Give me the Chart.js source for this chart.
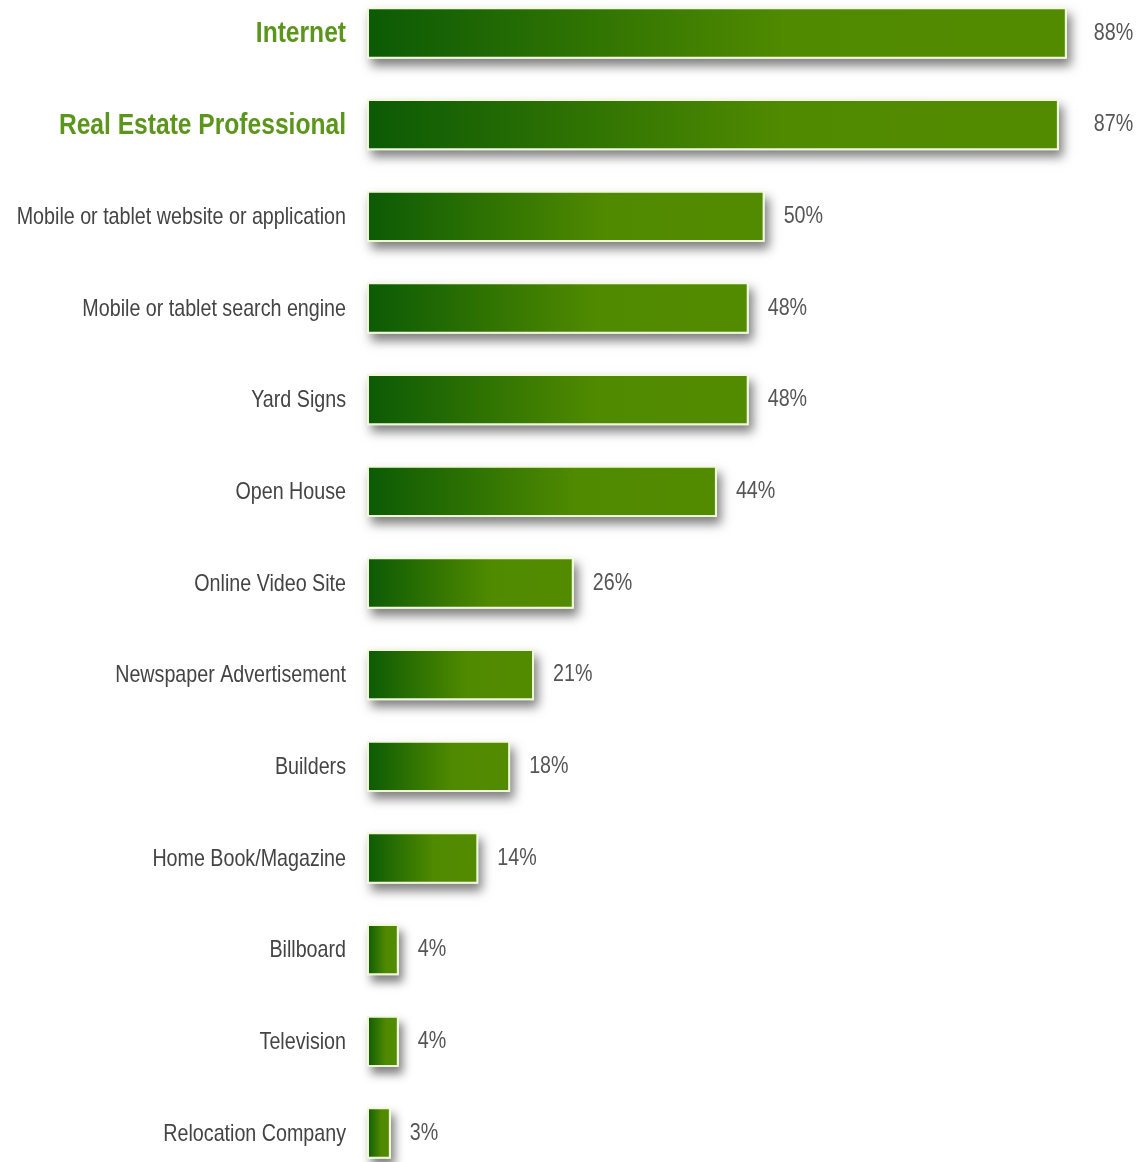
<!DOCTYPE html>
<html>
<head>
<meta charset="utf-8">
<script src="https://cdn.jsdelivr.net/npm/chart.js@4.4.0/dist/chart.umd.min.js"></script>
<style>
    html, body { margin: 0; padding: 0; background: #ffffff; }
    #wrap { width: 1140px; height: 1162px; }
</style>
</head>
<body>
<div id="wrap"><canvas id="sourcesChart"></canvas></div>
<script>
const categories = [
    'Internet',
    'Real Estate Professional',
    'Mobile or tablet website or application',
    'Mobile or tablet search engine',
    'Yard Signs',
    'Open House',
    'Online Video Site',
    'Newspaper Advertisement',
    'Builders',
    'Home Book/Magazine',
    'Billboard',
    'Television',
    'Relocation Company'
];
const percentValues = [88, 87, 50, 48, 48, 44, 26, 21, 18, 14, 4, 4, 3];
const highlightCount = 2; // first two rows are shown bold in green

const FONT = '"Liberation Sans", Arial, sans-serif';
const NARROW = 0.82; // squeeze Liberation Sans to look like a narrow face

// draws text squeezed horizontally, anchored at its right or left edge
function narrowText(ctx, text, x, y, align) {
    ctx.save();
    ctx.translate(x, y);
    ctx.scale(NARROW, 1);
    ctx.textAlign = align;
    ctx.textBaseline = 'middle';
    ctx.fillText(text, 0, 0);
    ctx.restore();
}

// soft shadow under each bar, drawn before the bars themselves
const barShadow = {
    id: 'barShadow',
    beforeDatasetsDraw(chart) {
        const ctx = chart.ctx;
        const meta = chart.getDatasetMeta(0);
        ctx.save();
        ctx.shadowColor = 'rgba(0, 0, 0, 0.5)';
        ctx.shadowBlur = 10;
        ctx.shadowOffsetX = 4;
        ctx.shadowOffsetY = 7;
        ctx.fillStyle = '#ffffff';
        meta.data.forEach(bar => {
            const p = bar.getProps(['x', 'y', 'base', 'height'], true);
            ctx.fillRect(p.base, p.y - p.height / 2, p.x - p.base, p.height);
        });
        ctx.restore();
    }
};

// category names on the left and percentages on the right
const textLabels = {
    id: 'textLabels',
    afterDatasetsDraw(chart) {
        const ctx = chart.ctx;
        const yScale = chart.scales.y;
        const meta = chart.getDatasetMeta(0);
        const labelRight = chart.chartArea.left - 21;

        categories.forEach((name, i) => {
            const y = yScale.getPixelForValue(i);
            if (i < highlightCount) {
                ctx.font = 'bold 30px ' + FONT;
                ctx.fillStyle = '#5b951c';
            } else {
                ctx.font = '24px ' + FONT;
                ctx.fillStyle = '#444444';
            }
            narrowText(ctx, name, labelRight, y + 1, 'right');
        });

        // the two top values line up with each other, the rest follow their bar
        ctx.font = '24px ' + FONT;
        ctx.fillStyle = '#555555';
        const topX = meta.data[0].x + 27;
        meta.data.forEach((bar, i) => {
            const x = i < highlightCount ? topX : bar.x + 19;
            narrowText(ctx, percentValues[i] + '%', x, bar.y, 'left');
        });
    }
};

function barGradient(context) {
    const chart = context.chart;
    if (!chart.chartArea) return '#4f8a00';
    const xScale = chart.scales.x;
    const x0 = xScale.getPixelForValue(0);
    const x1 = xScale.getPixelForValue(percentValues[context.dataIndex]);
    const g = chart.ctx.createLinearGradient(x0, 0, x1, 0);
    g.addColorStop(0, '#0b5a05');
    g.addColorStop(0.6, '#508a00');
    g.addColorStop(1, '#528b00');
    return g;
}

new Chart(document.getElementById('sourcesChart'), {
    type: 'bar',
    data: {
        labels: categories,
        datasets: [{
            data: percentValues,
            backgroundColor: barGradient,
            borderColor: '#f1f8d6',
            borderWidth: 2,
            borderSkipped: false,
            barPercentage: 0.56,
            categoryPercentage: 1.0,
            clip: false
        }]
    },
    options: {
        indexAxis: 'y',
        responsive: true,
        maintainAspectRatio: false,
        animation: false,
        layout: { padding: { top: 33, bottom: 29, left: 0, right: 0 } },
        plugins: {
            legend: { display: false },
            tooltip: { enabled: false }
        },
        scales: {
            x: {
                display: false,
                min: 0,
                max: 97.2
            },
            y: {
                offset: false,
                grid: { display: false },
                border: { display: false },
                ticks: { display: false },
                afterFit: (scale) => { scale.width = 367; }
            }
        }
    },
    plugins: [barShadow, textLabels]
});
</script>
</body>
</html>
